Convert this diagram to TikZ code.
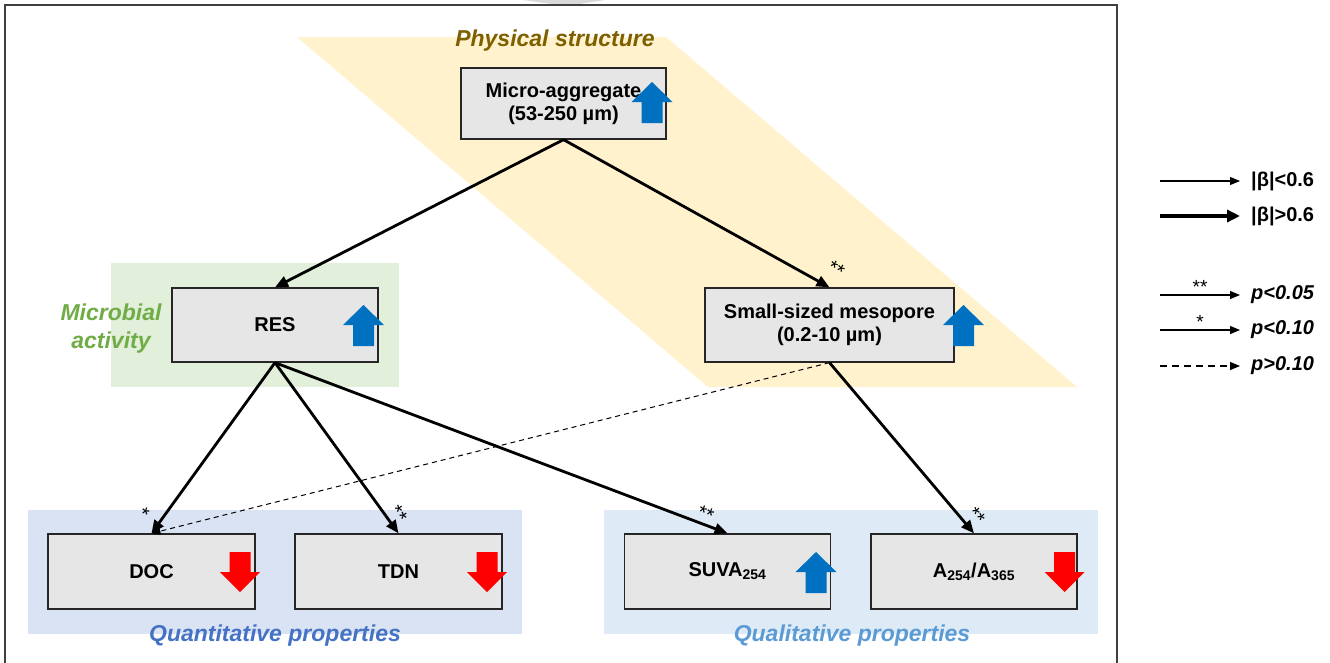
\documentclass[tikz,border=0pt]{standalone}
\usepackage{fontspec}
\setmainfont{Liberation Sans}
\usetikzlibrary{arrows.meta}
\definecolor{boxgray}{HTML}{E6E6E6}
\definecolor{physfill}{HTML}{FFF2CC}
\definecolor{phystext}{HTML}{7F6000}
\definecolor{microfill}{HTML}{E2EFDA}
\definecolor{microtext}{HTML}{70AD47}
\definecolor{quantfill}{HTML}{DAE3F3}
\definecolor{quanttext}{HTML}{4472C4}
\definecolor{qualfill}{HTML}{DEEBF7}
\definecolor{qualtext}{HTML}{5B9BD5}
\definecolor{upblue}{HTML}{0070C0}
\definecolor{downred}{HTML}{FF0000}
\definecolor{framegray}{HTML}{404040}
\newcommand\upicon[2]{\fill[upblue,shift={(#1,#2)}] (0,0) -- (20.5,20) -- (10.5,20) -- (10.5,41) -- (-10.5,41) -- (-10.5,20) -- (-20.5,20) -- cycle;}
\newcommand\downicon[2]{\fill[downred,shift={(#1,#2)}] (0,0) -- (20,-20) -- (10.5,-20) -- (10.5,-40) -- (-10.5,-40) -- (-10.5,-20) -- (-20,-20) -- cycle;}
\tikzset{
  box/.style={draw=black!85, line width=1.3pt, fill=boxgray, inner sep=0pt, align=center,
    font=\fontsize{20}{23}\selectfont\bfseries},
  conn/.style={line width=2.8pt, -{Triangle[length=13pt,width=11pt]}},
  thinconn/.style={line width=1.1pt, -{Triangle[length=10pt,width=8pt]}},
  thickconn/.style={line width=3.6pt, -{Triangle[length=13pt,width=12pt]}},
  dashconn/.style={line width=1pt, dash pattern=on 5pt off 4pt, -{Triangle[length=9pt,width=7pt]}},
  sig/.style={font=\fontsize{20}{20}\selectfont, inner sep=0pt, sloped},
  legsig/.style={font=\fontsize{19}{19}\selectfont, inner sep=0pt, above=1pt},
  grouplabel/.style={font=\fontsize{23}{28}\selectfont\bfseries\itshape, align=center},
  legtext/.style={anchor=west, inner sep=0pt, font=\fontsize{20}{23}\selectfont\bfseries}
}
\begin{document}
\begin{tikzpicture}[x=1pt,y=-1pt]
\useasboundingbox (0,0) rectangle (1330,662);
\clip (0,0) rectangle (1330,662);
\fill[white] (0,0) rectangle (1330,662);
% frame
\fill[black!15] (523,0) -- (605,0) -- (566,6) -- cycle;
\draw[framegray, line width=1.5pt] (5,670) -- (5,5) -- (1117,5) -- (1117,670);
% background groups
\fill[physfill] (297,37) -- (666,37) -- (1077,387) -- (708,387) -- cycle;
\fill[microfill] (111,263) rectangle (399,387);
\fill[quantfill] (28,510) rectangle (522,634);
\fill[qualfill] (604,510) rectangle (1098,634);
\node[grouplabel, text=phystext] (lphys) at (555,41) {Physical structure};
\node[grouplabel, text=microtext] (lmicro) at (111,329) {Microbial\\activity};
\node[grouplabel, text=quanttext] (lquant) at (275,636) {Quantitative properties};
\node[grouplabel, text=qualtext] (lqual) at (852,636) {Qualitative properties};
% boxes
\node[box, minimum width=205pt, minimum height=71pt] (micro) at (563.5,103.5) {Micro-aggregate\\(53-250 µm)};
\node[box, minimum width=206pt, minimum height=74pt] (res) at (275,325) {RES};
\node[box, minimum width=249pt, minimum height=74pt] (meso) at (829.5,325) {Small-sized mesopore\\(0.2-10 µm)};
\node[box, minimum width=207pt, minimum height=75pt] (doc) at (151.5,571.5) {DOC};
\node[box, minimum width=207pt, minimum height=75pt] (tdn) at (398.5,571.5) {TDN};
\node[box, minimum width=206pt, minimum height=75pt] (suva) at (727.5,571.5) {SUVA\textsubscript{254}};
\node[box, minimum width=206pt, minimum height=75pt] (aratio) at (974,571.5) {A\textsubscript{254}/A\textsubscript{365}};
% connectors
\draw[conn] (micro.south) -- (res.north);
\draw[conn] (micro.south) -- node[sig, pos=0.99, above=11pt] {**} (meso.north);
\draw[conn] (res.south) -- node[sig, pos=0.933, above=6pt] {*} (doc.north);
\draw[conn] (res.south) -- node[sig, pos=0.926, above=3pt] {**} (tdn.north);
\draw[conn] (res.south) -- node[sig, pos=0.944, above=2pt] {**} (suva.north);
\draw[conn] (meso.south) -- node[sig, pos=0.946, above=5pt] {**} (aratio.north);
\draw[dashconn] (meso.south) -- (doc.north);
% change icons
\upicon{652}{82}
\upicon{363.5}{305}
\upicon{963.5}{305}
\upicon{816}{552}
\downicon{240}{592}
\downicon{487}{592}
\downicon{1064.5}{592}
% legend
\coordinate (la1) at (1160,181); \coordinate (lb1) at (1240,181);
\coordinate (la2) at (1160,216); \coordinate (lb2) at (1240,216);
\coordinate (la3) at (1160,295); \coordinate (lb3) at (1240,295);
\coordinate (la4) at (1160,330); \coordinate (lb4) at (1240,330);
\coordinate (la5) at (1160,366); \coordinate (lb5) at (1240,366);
\draw[thinconn] (la1) -- (lb1);
\draw[thickconn] (la2) -- (lb2);
\draw[thinconn] (la3) -- node[legsig] {**} (lb3);
\draw[thinconn] (la4) -- node[legsig] {*} (lb4);
\draw[thinconn, dash pattern=on 7pt off 5pt] (la5) -- (lb5);
\node[legtext] (t1) at (1251,181) {|β|<0.6};
\node[legtext] (t2) at (1251,216) {|β|>0.6};
\node[legtext] (t3) at (1251,295) {\itshape p<0.05};
\node[legtext] (t4) at (1251,330) {\itshape p<0.10};
\node[legtext] (t5) at (1251,366) {\itshape p>0.10};
\end{tikzpicture}
\end{document}
